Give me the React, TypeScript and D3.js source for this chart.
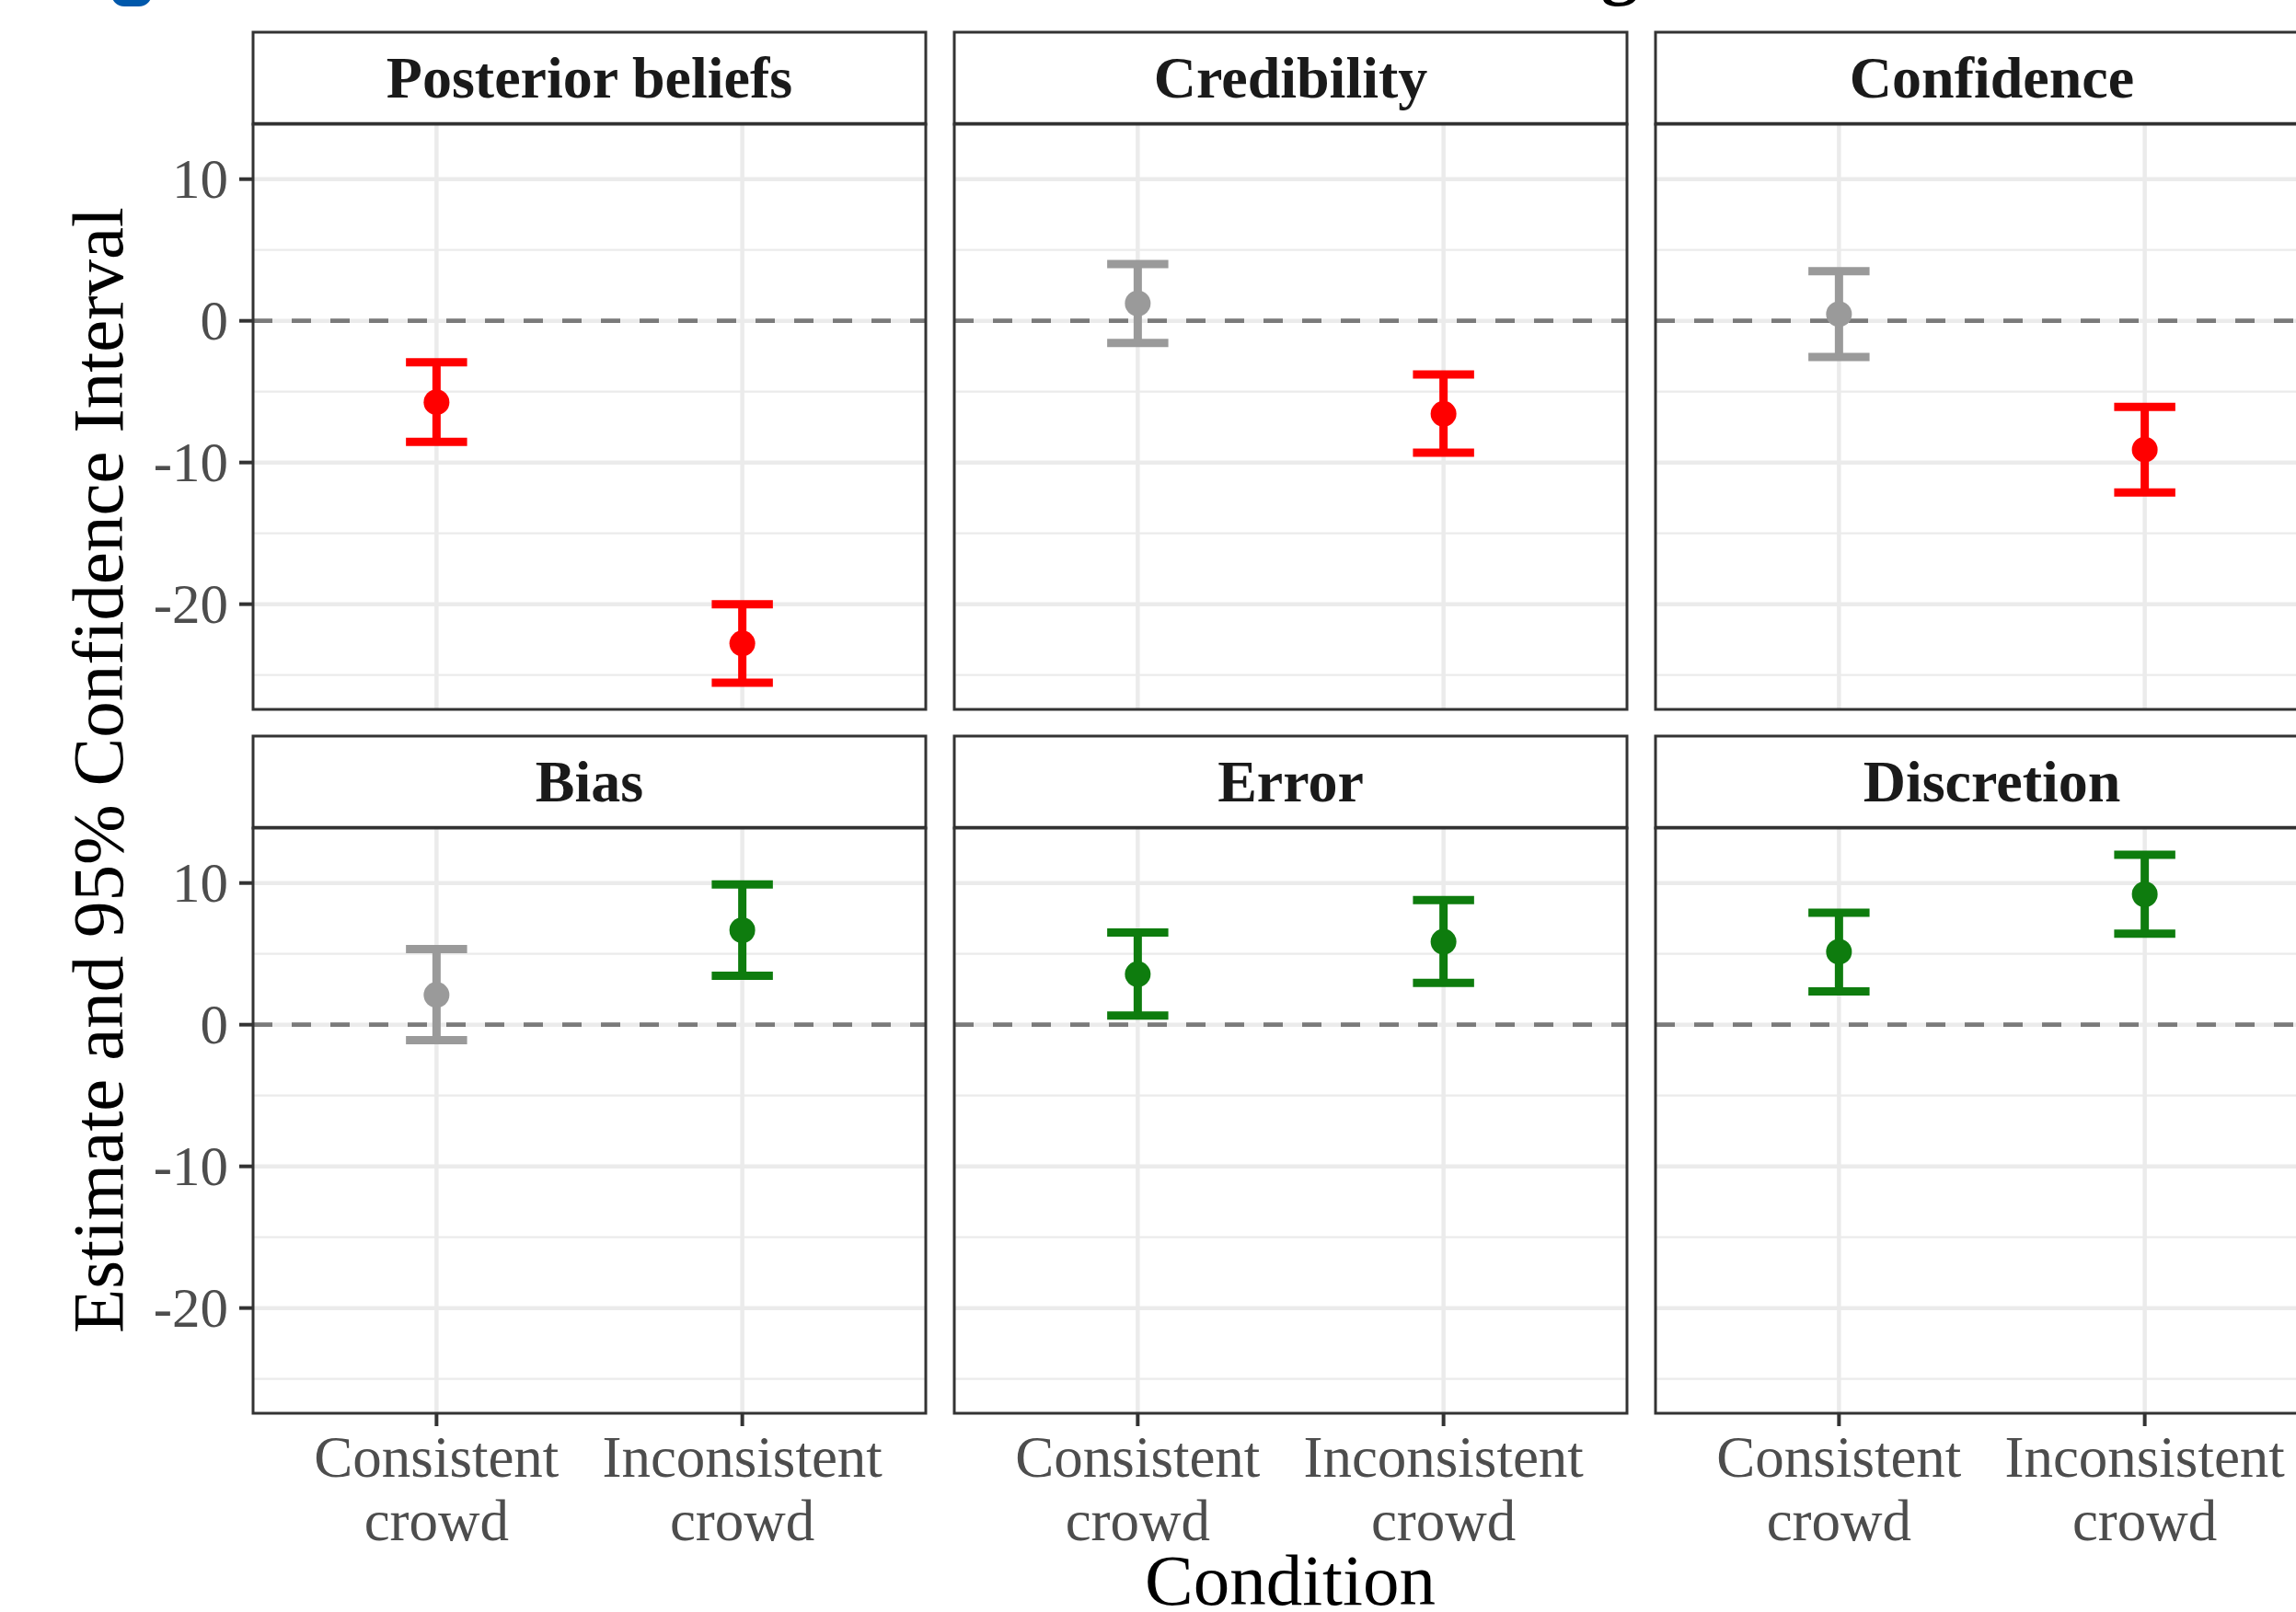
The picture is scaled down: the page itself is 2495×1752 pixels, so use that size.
import React from "react";
import * as d3 from "d3";

// ---------- data ----------
const facets = ["Posterior beliefs", "Credibility", "Confidence", "Bias", "Error", "Discretion"];
const conditions = ["Consistent crowd", "Inconsistent crowd"];
const conditionLines = [["Consistent", "crowd"], ["Inconsistent", "crowd"]];

const estimateConsistent = [-5.75, 1.23, 0.47, 2.1, 3.56, 5.15];
const lowerConsistent = [-8.54, -1.56, -2.55, -1.1, 0.65, 2.35];
const upperConsistent = [-2.92, 4.0, 3.5, 5.33, 6.5, 7.9];

const estimateInconsistent = [-22.77, -6.57, -9.09, 6.67, 5.85, 9.2];
const lowerInconsistent = [-25.55, -9.31, -12.12, 3.45, 2.95, 6.42];
const upperInconsistent = [-20.0, -3.78, -6.07, 9.9, 8.8, 12.0];

const yTicks = [-20, -10, 0, 10];
const yMinorTicks = [-25, -15, -5, 5];

const yTitle = "Estimate and 95% Confidence Interval";
const xTitle = "Condition";

// ---------- layout ----------
const W = 2495;
const H = 1752;
const panelLeft = [275, 1037, 1799];
const panelW = 731;
const stripTop = [35, 800];
const stripH = 100;
const bodyH = 636;

const RED = "#FF0000";
const GREEN = "#0E7C0E";
const GREY = "#9A9A9A";
const SERIF = "'Liberation Serif', 'Times New Roman', serif";

function colorFor(lo: number, hi: number) {
  if (hi < 0) return RED;
  if (lo > 0) return GREEN;
  return GREY;
}

export default function App() {
  const allVals = [...lowerConsistent, ...upperConsistent, ...lowerInconsistent, ...upperInconsistent];
  const [lo, hi] = d3.extent(allVals) as [number, number];
  const pad = (hi - lo) * 0.05;
  const y = d3.scaleLinear().domain([lo - pad, hi + pad]).range([bodyH, 0]);
  const x = d3.scalePoint<string>().domain(conditions).range([0, panelW]).padding(0.6);
  const capW = 0.2 * x.step();

  const panels = facets.map((name, i) => {
    const row = Math.floor(i / 3);
    const col = i % 3;
    const pts = [
      { cond: conditions[0], est: estimateConsistent[i], lo: lowerConsistent[i], hi: upperConsistent[i] },
      { cond: conditions[1], est: estimateInconsistent[i], lo: lowerInconsistent[i], hi: upperInconsistent[i] },
    ];
    return { name, row, col, pts };
  });

  return (
    <div style={{ position: "absolute", left: 0, top: 0, width: W, height: H, overflow: "hidden", background: "#fff" }}>
      <svg width={W} height={H} viewBox={`0 0 ${W} ${H}`} style={{ display: "block" }}>
        <rect x={0} y={0} width={W} height={H} fill="#fff" />
        {/* cropped elements at top edge */}
        <rect x={121} y={-40} width={44} height={47} rx={14} fill="#0058AB" />
        <text x={1760} y={-10} fontFamily={SERIF} fontWeight="bold" fontSize={80} textAnchor="middle" fill="#000">g</text>

        {panels.map((p) => {
          const tx = panelLeft[p.col];
          const ty = stripTop[p.row] + stripH;
          return (
            <g key={p.name} transform={`translate(${tx},${ty})`}>
              {/* strip */}
              <rect x={0} y={-stripH} width={panelW} height={stripH} fill="#fff" stroke="#333" strokeWidth={3} />
              <line x1={0} x2={panelW} y1={0} y2={0} stroke="#222" strokeWidth={4.5} />
              <text x={panelW / 2} y={-stripH + 71} textAnchor="middle" fontFamily={SERIF} fontWeight="bold" fontSize={64} fill="#1A1A1A">
                {p.name}
              </text>
              {/* panel background & grid */}
              <rect x={0} y={0} width={panelW} height={bodyH} fill="#fff" />
              {yMinorTicks.map((t) => (
                <line key={"mn" + t} x1={0} x2={panelW} y1={y(t)} y2={y(t)} stroke="#EBEBEB" strokeWidth={2.3} />
              ))}
              {yTicks.map((t) => (
                <line key={"mj" + t} x1={0} x2={panelW} y1={y(t)} y2={y(t)} stroke="#EBEBEB" strokeWidth={4.5} />
              ))}
              {conditions.map((c) => (
                <line key={"vx" + c} x1={x(c)} x2={x(c)} y1={0} y2={bodyH} stroke="#EBEBEB" strokeWidth={4.5} />
              ))}
              {/* zero reference */}
              <line x1={0} x2={panelW} y1={y(0)} y2={y(0)} stroke="#7A7A7A" strokeWidth={4.8} strokeDasharray="21 21" />
              {/* error bars and points */}
              {p.pts.map((d) => {
                const cx = x(d.cond) as number;
                const col = colorFor(d.lo, d.hi);
                return (
                  <g key={d.cond}>
                    <line x1={cx} x2={cx} y1={y(d.lo)} y2={y(d.hi)} stroke={col} strokeWidth={9} />
                    <line x1={cx - capW / 2} x2={cx + capW / 2} y1={y(d.hi)} y2={y(d.hi)} stroke={col} strokeWidth={9} />
                    <line x1={cx - capW / 2} x2={cx + capW / 2} y1={y(d.lo)} y2={y(d.lo)} stroke={col} strokeWidth={9} />
                    <circle cx={cx} cy={y(d.est)} r={14} fill={col} />
                  </g>
                );
              })}
              {/* border */}
              <rect x={0} y={0} width={panelW} height={bodyH} fill="none" stroke="#333" strokeWidth={3} />
              {/* y axis */}
              {p.col === 0 &&
                yTicks.map((t) => (
                  <g key={"yt" + t}>
                    <line x1={-15} x2={0} y1={y(t)} y2={y(t)} stroke="#333" strokeWidth={4} />
                    <text x={-27} y={y(t)} dy="0.34em" textAnchor="end" fontFamily={SERIF} fontSize={61} fill="#4D4D4D">
                      {String(t)}
                    </text>
                  </g>
                ))}
              {/* x axis */}
              {p.row === 1 &&
                conditions.map((c, ci) => (
                  <g key={"xt" + c}>
                    <line x1={x(c)} x2={x(c)} y1={bodyH} y2={bodyH + 14} stroke="#333" strokeWidth={4} />
                    {conditionLines[ci].map((ln, li) => (
                      <text key={li} x={x(c)} y={bodyH + 69 + li * 69} textAnchor="middle" fontFamily={SERIF} fontSize={63} fill="#4D4D4D">
                        {ln}
                      </text>
                    ))}
                  </g>
                ))}
            </g>
          );
        })}

        {/* axis titles */}
        <text x={1402} y={1744} textAnchor="middle" fontFamily={SERIF} fontSize={79} fill="#000">{xTitle}</text>
        <text transform="translate(133,837) rotate(-90)" textAnchor="middle" fontFamily={SERIF} fontSize={79} fill="#000">{yTitle}</text>
      </svg>
    </div>
  );
}
